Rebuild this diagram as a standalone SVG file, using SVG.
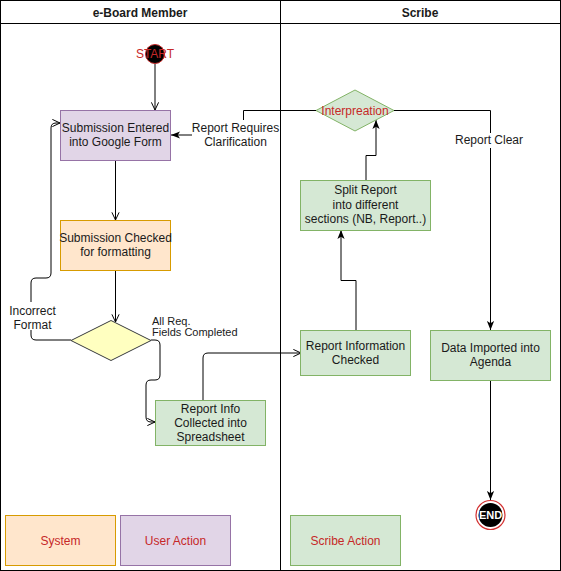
<svg xmlns="http://www.w3.org/2000/svg" width="561" height="571" viewBox="0 0 561 571">
<style>
text{font-family:"Liberation Sans",Arial,Helvetica,sans-serif;font-size:12px;fill:#1a1a1a;text-anchor:middle}
.hdr{font-weight:bold}
.red{fill:#c62828}
.lane{fill:none;stroke:#000;stroke-width:1}
.green{fill:#d5e8d4;stroke:#82b366}
.orange{fill:#ffe6cc;stroke:#d79b00}
.purple{fill:#e1d5e7;stroke:#9673a6}
.yellow{fill:#ffffc0;stroke:#36393d}
.edge{fill:none;stroke:#000;stroke-width:1}
.open{marker-end:url(#openArrow)}
.block{marker-end:url(#blockArrow)}
.small{font-size:11px;text-anchor:start}
</style>
<defs>
<marker id="openArrow" viewBox="0 0 10 10" refX="9.5" refY="5" markerWidth="9" markerHeight="9" orient="auto" markerUnits="userSpaceOnUse">
<path d="M1,1 L9.5,5 L1,9" fill="none" stroke="#000" stroke-width="1.1"/>
</marker>
<marker id="blockArrow" viewBox="0 0 10 8" refX="10" refY="4" markerWidth="9" markerHeight="7.5" orient="auto" markerUnits="userSpaceOnUse">
<path d="M0,0 L10,4 L0,8 L2.5,4 Z" fill="#000"/>
</marker>
</defs>
<rect width="561" height="571" fill="#fff"/>

<g id="lane-eboard">
<rect class="lane" x="0.5" y="0.5" width="280" height="570"/>
<line class="lane" x1="0.5" y1="23.5" x2="280.5" y2="23.5"/>
<text class="hdr" x="140" y="17">e-Board Member</text>
</g>
<g id="lane-scribe">
<rect class="lane" x="280.5" y="0.5" width="280" height="570"/>
<line class="lane" x1="280.5" y1="23.5" x2="560.5" y2="23.5"/>
<text class="hdr" x="420" y="17">Scribe</text>
</g>

<g id="connectors">
<path class="edge open" d="M155,64 V110"/>
<path class="edge open" d="M115.5,160 V220"/>
<path class="edge open" d="M115.5,270 V322"/>
<path class="edge open" d="M71,340 H36 Q31,340 31,335 V283 Q31,278 36,278 H46 Q51,278 51,273 V128 Q51,123 56,123 H60"/>
<path class="edge open" d="M151,340 H155 Q160,340 160,345 V375 Q160,380 155,380 H151 Q146,380 146,385 V417 Q146,422 151,422 H155"/>
<path class="edge open" d="M203,400 V358 Q203,353 208,353 H301"/>
<path class="edge block" d="M356,330 V280.5 H341 V230"/>
<path class="edge block" d="M366,180 V155.5 H376 V120"/>
<path class="edge block" d="M316,110.5 H243.5 V135 H171"/>
<path class="edge block" d="M394,110.5 H490.5 V330"/>
<path class="edge block" d="M490.5,380 V500"/>
<g id="label-clarification">
<rect x="192" y="120" width="87" height="29" fill="#fff"/>
<text x="235.5" y="132">Report Requires</text>
<text x="235.5" y="146">Clarification</text>
</g>
<g id="label-clear">
<rect x="455" y="133" width="70" height="15" fill="#fff"/>
<text x="489" y="144">Report Clear</text>
</g>
<g id="label-incorrect">
<rect x="8" y="302" width="48" height="28" fill="#fff"/>
<text x="32.5" y="315">Incorrect</text>
<text x="32.5" y="329">Format</text>
</g>
<g id="label-allreq">
<text class="small" x="152" y="324.5">All Req.</text>
<text class="small" x="152" y="336">Fields Completed</text>
</g>
</g>

<g id="start">
<circle cx="155" cy="54" r="9.5" fill="#000" stroke="#c62828" stroke-width="1"/>
<text class="red" x="155" y="58">START</text>
</g>

<g id="submission-entered">
<rect class="purple" x="60.5" y="110.5" width="110" height="50"/>
<text x="115.5" y="132">Submission Entered</text>
<text x="115.5" y="146">into Google Form</text>
</g>

<g id="submission-checked">
<rect class="orange" x="60.5" y="220.5" width="110" height="50"/>
<text x="115.5" y="242">Submission Checked</text>
<text x="115.5" y="256">for formatting</text>
</g>

<g id="format-decision">
<polygon class="yellow" points="111,320.5 151,340.5 111,360.5 71,340.5"/>
</g>

<g id="report-info-collected">
<rect class="green" x="155.5" y="400.5" width="110" height="45"/>
<text x="210.5" y="412.5">Report Info</text>
<text x="210.5" y="427">Collected into</text>
<text x="210.5" y="441">Spreadsheet</text>
</g>

<g id="interpretation">
<polygon class="green" points="355,90 394,110.5 355,131 316,110.5"/>
<text class="red" x="355" y="114.5">Interpreation</text>
</g>

<g id="split-report">
<rect class="green" x="300.5" y="180.5" width="130" height="50"/>
<text x="365.5" y="194">Split Report</text>
<text x="365.5" y="209">into different</text>
<text x="365.5" y="223">sections (NB, Report..)</text>
</g>

<g id="report-information-checked">
<rect class="green" x="300.5" y="330.5" width="110" height="45"/>
<text x="355.5" y="350">Report Information</text>
<text x="355.5" y="364">Checked</text>
</g>

<g id="data-imported">
<rect class="green" x="430.5" y="330.5" width="120" height="50"/>
<text x="490.5" y="352">Data Imported into</text>
<text x="490.5" y="366">Agenda</text>
</g>

<g id="end">
<circle cx="490.5" cy="515" r="14.5" fill="#fff" stroke="#d32f2f" stroke-width="1.2"/>
<circle cx="490.5" cy="515" r="12" fill="#000"/>
<text x="490.5" y="519" style="fill:#fff;font-weight:bold;font-size:11px">END</text>
</g>

<g id="legend-system">
<rect class="orange" x="5.5" y="515.5" width="110" height="50"/>
<text class="red" x="60.5" y="545">System</text>
</g>
<g id="legend-user">
<rect class="purple" x="120.5" y="515.5" width="110" height="50"/>
<text class="red" x="175.5" y="545">User Action</text>
</g>
<g id="legend-scribe">
<rect class="green" x="290.5" y="515.5" width="110" height="50"/>
<text class="red" x="345.5" y="545">Scribe Action</text>
</g>
</svg>
